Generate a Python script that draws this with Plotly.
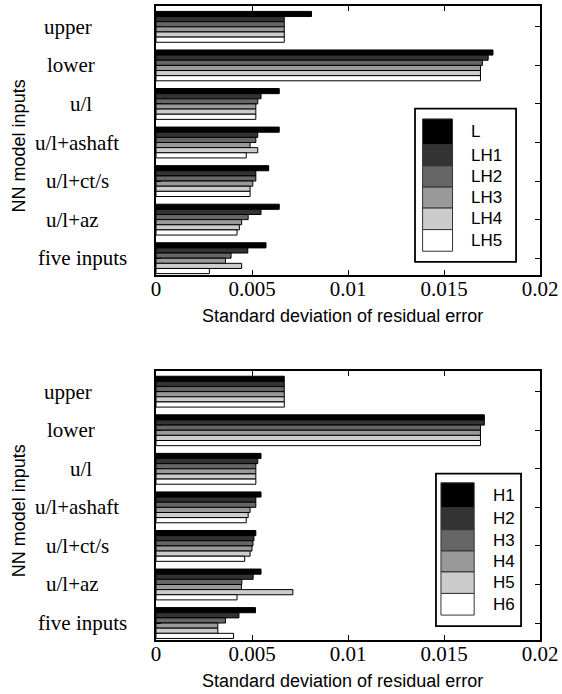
import plotly.graph_objects as go

# ---- data -------------------------------------------------------------
categories = ["upper", "lower", "u/l", "u/l+ashaft", "u/l+ct/s", "u/l+az", "five inputs"]

top_names = ["L", "LH1", "LH2", "LH3", "LH4", "LH5"]
L_vals   = [0.0081, 0.01755, 0.00642, 0.00642, 0.00587, 0.00642, 0.00573]
LH1_vals = [0.00668, 0.0173, 0.00547, 0.0053, 0.0052, 0.00547, 0.00478]
LH2_vals = [0.00668, 0.0170, 0.0053, 0.0052, 0.0052, 0.0048, 0.00391]
LH3_vals = [0.00668, 0.0169, 0.0052, 0.0049, 0.00504, 0.00446, 0.00362]
LH4_vals = [0.00668, 0.0169, 0.0052, 0.0053, 0.0049, 0.00434, 0.00446]
LH5_vals = [0.00668, 0.0169, 0.0052, 0.0047, 0.0049, 0.00422, 0.00278]

bottom_names = ["H1", "H2", "H3", "H4", "H5", "H6"]
H1_vals = [0.00668, 0.0171, 0.00547, 0.00547, 0.0052, 0.00547, 0.00518]
H2_vals = [0.00668, 0.0171, 0.0053, 0.0052, 0.0051, 0.00506, 0.00432]
H3_vals = [0.00668, 0.0169, 0.0052, 0.0052, 0.00505, 0.00447, 0.00362]
H4_vals = [0.00668, 0.0169, 0.0052, 0.0049, 0.0050, 0.00445, 0.00322]
H5_vals = [0.00668, 0.0169, 0.0052, 0.0048, 0.0049, 0.00713, 0.00322]
H6_vals = [0.00668, 0.0169, 0.0052, 0.0047, 0.00462, 0.00422, 0.00404]

x_ticks = [0, 0.005, 0.01, 0.015, 0.02]
x_tick_labels = ["0", "0.005", "0.01", "0.015", "0.02"]

x_title = "Standard deviation of residual error"
y_title = "NN model inputs"

# ---- style ------------------------------------------------------------
grays = ["#000000", "#333333", "#666666", "#999999", "#cccccc", "#ffffff"]
SERIF = "Liberation Serif, Times New Roman, serif"
SANS = "Liberation Sans, Arial, sans-serif"

W, H = 562, 694
ML, MR, MT, MB = 156, 21, 4, 54
PL, PR, PT, PB = ML, W - MR, MT, H - MB


def px(x):
    return (x - PL) / (PR - PL)


def py(y):
    return (PB - y) / (PB - PT)


top_dom = [py(274), 1.0]
bot_dom = [0.0, py(370)]

fig = go.Figure()

top_series = [L_vals, LH1_vals, LH2_vals, LH3_vals, LH4_vals, LH5_vals]
bot_series = [H1_vals, H2_vals, H3_vals, H4_vals, H5_vals, H6_vals]

for name, vals, col in zip(top_names, top_series, grays):
    fig.add_trace(go.Bar(x=vals, y=categories, orientation="h", name=name,
                         marker=dict(color=col, line=dict(color="black", width=1)),
                         xaxis="x", yaxis="y", showlegend=False))

for name, vals, col in zip(bottom_names, bot_series, grays):
    fig.add_trace(go.Bar(x=vals, y=categories, orientation="h", name=name,
                         marker=dict(color=col, line=dict(color="black", width=1)),
                         xaxis="x2", yaxis="y2", showlegend=False))

xax = dict(range=[0, 0.02], tickvals=x_ticks, ticktext=x_tick_labels,
           ticks="inside", ticklen=5, tickcolor="black", showline=True,
           linecolor="black", linewidth=1.5, mirror="ticks", showgrid=False,
           zeroline=False, tickfont=dict(family=SERIF, size=21, color="black"),
           ticklabelstandoff=-6)
yax = dict(type="category", categoryorder="array", categoryarray=categories,
           range=[6.44, -0.54], ticks="inside", ticklen=5, tickcolor="black",
           showline=True, linecolor="black", linewidth=1.5, mirror="ticks",
           showgrid=False, zeroline=False, showticklabels=False)

fig.update_layout(
    width=W, height=H,
    margin=dict(l=ML, r=MR, t=MT, b=MB, pad=0),
    paper_bgcolor="white", plot_bgcolor="white",
    barmode="group", bargap=0.2, bargroupgap=0,
    xaxis=dict(xax, domain=[0, 1], anchor="y"),
    yaxis=dict(yax, domain=top_dom, anchor="x"),
    xaxis2=dict(xax, domain=[0, 1], anchor="y2"),
    yaxis2=dict(yax, domain=bot_dom, anchor="x2"),
)

annotations = []
shapes = []

# category labels beside each panel (centre x in pixels)
label_cx = [68, 71, 81, 77, 77, 72, 82]
for yref in ["y", "y2"]:
    for cat, cx in zip(categories, label_cx):
        annotations.append(dict(text=cat, x=px(cx), xref="paper", y=cat, yref=yref,
                                xanchor="center", yanchor="middle", showarrow=False,
                                font=dict(family=SERIF, size=21, color="black")))

# axis titles
for off in [0, 366]:
    annotations.append(dict(text=x_title, x=px(343), xref="paper", y=py(315 + off),
                            yref="paper", xanchor="center", yanchor="middle",
                            showarrow=False, font=dict(family=SANS, size=18, color="black")))
    annotations.append(dict(text=y_title, x=px(19), xref="paper", y=py(144.5 + off),
                            yref="paper", xanchor="center", yanchor="middle",
                            textangle=-90, showarrow=False,
                            font=dict(family=SANS, size=18, color="black")))


# hand-built legends with large swatches
def add_legend(names, box, sw_x, edges, text_x):
    x0, x1, y0, y1 = box
    shapes.append(dict(type="rect", xref="paper", yref="paper",
                       x0=px(x0), x1=px(x1), y0=py(y1), y1=py(y0),
                       line=dict(color="black", width=1.8), fillcolor="white"))
    for i, (name, col) in enumerate(zip(names, grays)):
        top, bot = edges[i], edges[i + 1]
        shapes.append(dict(type="rect", xref="paper", yref="paper",
                           x0=px(sw_x[0]), x1=px(sw_x[1]), y0=py(bot), y1=py(top),
                           line=dict(color="#333333", width=1), fillcolor=col))
        annotations.append(dict(text=name, x=px(text_x), xref="paper",
                                y=py((top + bot) / 2), yref="paper",
                                xanchor="left", yanchor="middle", showarrow=False,
                                font=dict(family=SANS, size=17, color="black")))


add_legend(top_names, (415.7, 517, 107, 260.7), (423.3, 453.3),
           [117.3, 143.3, 164.3, 185.7, 206.7, 228.3, 250], 470)
add_legend(bottom_names, (436.7, 522, 473, 626), (441.7, 475),
           [482.3, 507.3, 529.3, 550.7, 571.7, 593.3, 615], 492)

fig.update_layout(annotations=annotations, shapes=shapes)

fig.write_html("out.html")
